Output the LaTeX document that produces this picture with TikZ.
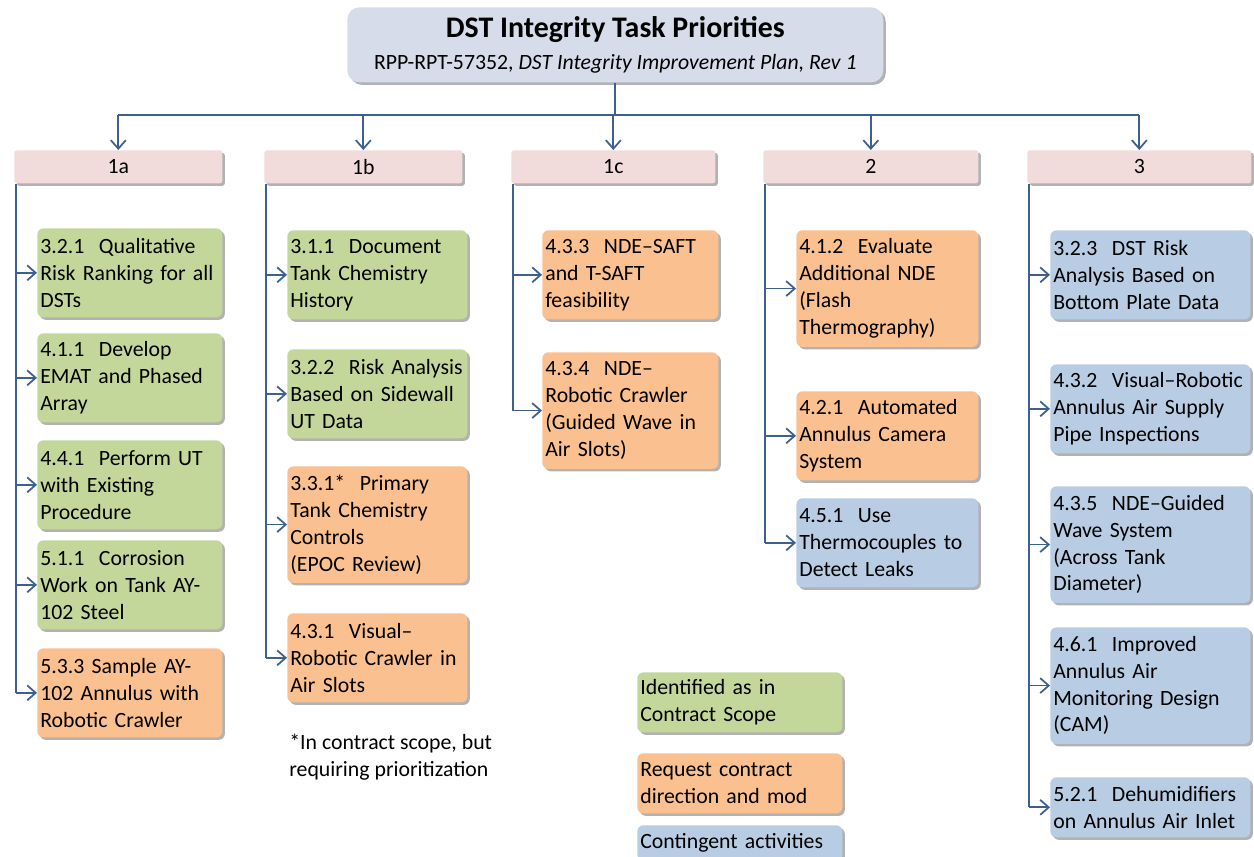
\documentclass[tikz,border=0pt]{standalone}
\usepackage{fontspec}
\setmainfont{Carlito}
\usepackage{tikz}
\usetikzlibrary{arrows.meta, positioning, shadows, calc}
\definecolor{TaskGreen}{RGB}{196,215,155}
\definecolor{TaskOrange}{RGB}{250,192,143}
\definecolor{TaskBlue}{RGB}{184,204,228}
\definecolor{HeadPink}{RGB}{242,220,219}
\definecolor{TitleBlue}{RGB}{214,220,233}
\definecolor{LinkBlue}{RGB}{62,96,145}

\begin{document}
\begin{tikzpicture}[x=0.02cm, y=-0.02cm,
  font=\fontsize{12.4}{15.3}\selectfont,
  softshadow/.style={drop shadow={shadow xshift=0.05cm, shadow yshift=-0.05cm,
      opacity=0.3, fill=black}},
  card/.style={rounded corners=0.12cm, align=left, anchor=north west,
      inner xsep=0.06cm, inner ysep=0pt, softshadow},
  green/.style={card, fill=TaskGreen},
  orange/.style={card, fill=TaskOrange},
  blue/.style={card, fill=TaskBlue},
  head/.style={rounded corners=0.05cm, fill=HeadPink, anchor=north west,
      minimum height=0.66cm, inner sep=0pt, softshadow},
  short/.style={minimum height=1.2cm},
  mid/.style={minimum height=1.78cm},
  tall/.style={minimum height=2.33cm},
  cola/.style={text width=3.58cm},
  colb/.style={text width=3.48cm},
  colc/.style={text width=3.40cm},
  cold/.style={text width=3.52cm},
  cole/.style={text width=3.88cm},
  legend/.style={text width=3.98cm},
  link/.style={draw=LinkBlue, line width=1pt},
  flow/.style={link, -{Straight Barb[length=0.17cm, width=0.3cm]}}]

  \useasboundingbox (0,0) rectangle (1254,857);

  % Title
  \node[fill=TitleBlue, rounded corners=0.24cm, anchor=north west, align=center,
        minimum width=10.72cm, minimum height=1.5cm, inner sep=0pt, softshadow]
    (title) at (347,7)
    {{\fontsize{17}{19}\selectfont\bfseries DST Integrity Task Priorities}\\[3pt]
     RPP-RPT-57352, \textit{DST Integrity Improvement Plan, Rev 1}};

  % Priority headers
  \node[head, minimum width=4.16cm] (h1a) at (14,150) {1a};
  \node[head, minimum width=3.96cm] (h1b) at (264,150) {1b};
  \node[head, minimum width=4.08cm] (h1c) at (511,150) {1c};
  \node[head, minimum width=4.30cm] (h2)  at (763,150) {2};
  \node[head, minimum width=4.48cm] (h3)  at (1027,150) {3};

  % Column 1a
  \node[green, cola, mid] (t321) at (37,228) {3.2.1~~Qualitative\\Risk Ranking for all\\DSTs};
  \node[green, cola, mid] (t411) at (37,333) {4.1.1~~Develop\\EMAT and Phased\\Array};
  \node[green, cola, mid] (t441) at (37,440) {4.4.1~~Perform UT\\with Existing\\Procedure};
  \node[green, cola, mid] (t511) at (37,540) {5.1.1~~Corrosion\\Work on Tank AY-\\102 Steel};
  \node[orange, cola, mid] (t533) at (37,648) {5.3.3 Sample AY-\\102 Annulus with\\Robotic Crawler};

  % Column 1b
  \node[green, colb, mid] (t311) at (287,230) {3.1.1~~Document\\Tank Chemistry\\History};
  \node[green, colb, mid] (t322) at (287,349) {3.2.2~~Risk Analysis\\Based on Sidewall\\UT Data};
  \node[orange, colb, tall] (t331) at (287,466) {3.3.1*~~Primary\\Tank Chemistry\\Controls\\(EPOC Review)};
  \node[orange, colb, mid] (t431) at (287,613) {4.3.1~~Visual--\\Robotic Crawler in\\Air Slots};
  \node[anchor=north west, align=left, inner sep=0pt] (note) at (289,734)
    {*In contract scope, but\\requiring prioritization};

  % Column 1c
  \node[orange, colc, mid] (t433) at (542,230) {4.3.3~~NDE--SAFT\\and T-SAFT\\feasibility};
  \node[orange, colc, tall] (t434) at (542,352) {4.3.4~~NDE--\\Robotic Crawler\\(Guided Wave in\\Air Slots)};

  % Column 2
  \node[orange, cold, tall] (t412) at (796,230) {4.1.2~~Evaluate\\Additional NDE\\(Flash\\Thermography)};
  \node[orange, cold, mid] (t421) at (796,391) {4.2.1~~Automated\\Annulus Camera\\System};
  \node[blue, cold, mid] (t451) at (796,498) {4.5.1~~Use\\Thermocouples to\\Detect Leaks};

  % Column 3
  \node[blue, cole, mid] (t323) at (1050,230) {3.2.3~~DST Risk\\Analysis Based on\\Bottom Plate Data};
  \node[blue, cole, mid] (t432) at (1050,364) {4.3.2~~Visual--Robotic\\Annulus Air Supply\\Pipe Inspections};
  \node[blue, cole, tall] (t435) at (1050,486) {4.3.5~~NDE--Guided\\Wave System\\(Across Tank\\Diameter)};
  \node[blue, cole, tall] (t461) at (1050,627) {4.6.1~~Improved\\Annulus Air\\Monitoring Design\\(CAM)};
  \node[blue, cole, short] (t521) at (1050,777) {5.2.1~~Dehumidifiers\\on Annulus Air Inlet};

  % Legend
  \node[green, legend, short] (kgreen) at (637,672) {Identified as in\\Contract Scope};
  \node[orange, legend, short] (korange) at (637,753) {Request contract\\direction and mod};
  \node[blue, legend, minimum height=0.7cm] (kblue) at (637,825) {Contingent activities};

  % Title to headers
  \coordinate (bus) at (0,115);
  \draw[link] (title.south) -- (title.south |- bus);
  \draw[link] (h1a.north |- bus) -- (h3.north |- bus);
  \foreach \h in {h1a,h1b,h1c,h2,h3}
    \draw[flow] (\h.north |- bus) -- (\h.north);

  % Column spines and branches
  \foreach \h/\last/\list in {%
    h1a/t533/{t321,t411,t441,t511,t533},%
    h1b/t431/{t311,t322,t331,t431},%
    h1c/t434/{t433,t434},%
    h2/t451/{t412,t421,t451},%
    h3/t521/{t323,t432,t435,t461,t521}}{%
    \coordinate (spine) at ([xshift=1pt]\h.south west);
    \draw[link] (spine) -- (spine |- \last.west);
    \foreach \t in \list
      \draw[flow] (spine |- \t.west) -- (\t.west);
  }
\end{tikzpicture}
\end{document}
